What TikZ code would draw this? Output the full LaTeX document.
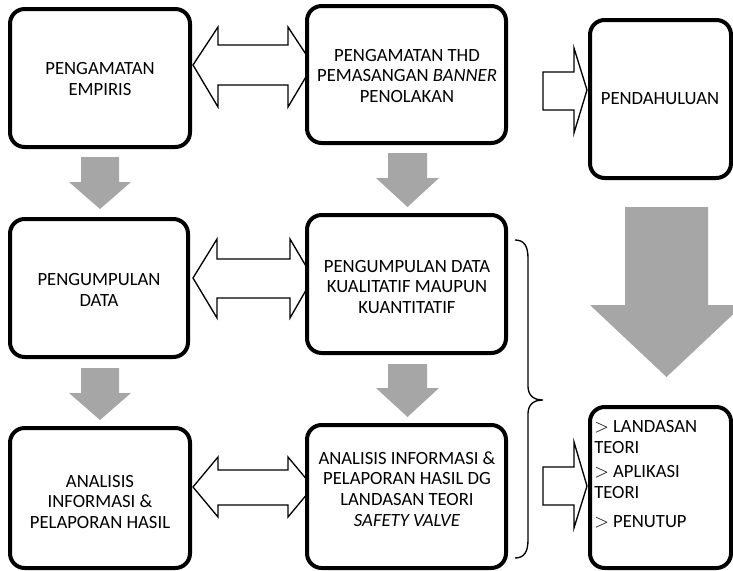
\documentclass[tikz,border=0pt]{standalone}
\usepackage{fontspec}
\setmainfont{Carlito}
\usetikzlibrary{fit}
\definecolor{arrowgray}{HTML}{A6A6A6}
\begin{document}
\begin{tikzpicture}[x=0.75pt,y=-0.75pt,
  box/.style={draw=black,line width=3pt,rounded corners=11pt,fill=white,inner sep=0pt},
  txt/.style={align=center,inner sep=0pt,font=\fontsize{14}{15.6}\selectfont},
  grayarr/.style={fill=arrowgray,draw=none},
  hollow/.style={draw=black,line width=1pt,fill=white,line join=miter},
  bracestyle/.style={draw=black,line width=1pt}]
\useasboundingbox (0,0) rectangle (733,571);

% gray down arrows
\fill[grayarr] (81,157) -- (119,157) -- (119,182) -- (131,182) -- (100,209) -- (69,182) -- (81,182) -- cycle;
\fill[grayarr] (388,153) -- (427,153) -- (427,178) -- (439,178) -- (407.5,207) -- (376,178) -- (388,178) -- cycle;
\fill[grayarr] (81,368) -- (119,368) -- (119,393) -- (131,393) -- (100,420) -- (69,393) -- (81,393) -- cycle;
\fill[grayarr] (388,364) -- (427,364) -- (427,388) -- (439,388) -- (407.5,417) -- (376,388) -- (388,388) -- cycle;
% big gray arrow
\fill[grayarr] (625,207) -- (708,207) -- (708,305) -- (743,305) -- (666.5,377) -- (590,305) -- (625,305) -- cycle;

% hollow double arrows
\draw[hollow] (193,65) -- (218,27) -- (218,45) -- (288,45) -- (288,27) -- (313,65) -- (288,107) -- (288,85) -- (218,85) -- (218,107) -- cycle;
\draw[hollow] (193,278) -- (217,239) -- (217,259) -- (290,259) -- (290,239) -- (313,278) -- (290,318) -- (290,298) -- (217,298) -- (217,318) -- cycle;
\draw[hollow] (193,487) -- (218,457) -- (218,470) -- (288,470) -- (288,457) -- (313,487) -- (288,517) -- (288,505) -- (218,505) -- (218,517) -- cycle;
% hollow single arrows
\draw[hollow] (543,72) -- (574,72) -- (574,48) -- (587,90) -- (574,133) -- (574,110) -- (543,110) -- cycle;
\draw[hollow] (543,467) -- (574,467) -- (574,442) -- (587,486) -- (574,528) -- (574,505) -- (543,505) -- cycle;

% brace
\draw[bracestyle] (515,240) .. controls (524,240) and (528,246) .. (528,258) -- (528,386) .. controls (528,395) and (533,400) .. (543,400) .. controls (533,400) and (528,405) .. (528,414) -- (528,540) .. controls (528,552) and (524,558) .. (515,558);

% boxes
\node[box,fit={(10,9) (190,147)}] (b1) {};
\node[box,fit={(307,6) (506,143)}] (b2) {};
\node[box,fit={(590,20) (731,178)}] (b3) {};
\node[box,fit={(10,219) (188,357)}] (b4) {};
\node[box,fit={(307,215) (506,353)}] (b5) {};
\node[box,fit={(10,428) (190,568)}] (b6) {};
\node[box,fit={(307,425) (506,568)}] (b7) {};
\node[box,fit={(590,407) (731,568)}] (b8) {};

% texts
\node[txt] (t1) at (100,79) {PENGAMATAN\\EMPIRIS};
\node[txt] (t2) at (407,76) {PENGAMATAN THD\\PEMASANGAN \textit{BANNER}\\PENOLAKAN};
\node[txt] (t3) at (660,99) {PENDAHULUAN};
\node[txt] (t4) at (99,290) {PENGUMPULAN\\DATA};
\node[txt] (t5) at (407,287) {PENGUMPULAN DATA\\KUALITATIF MAUPUN\\KUANTITATIF};
\node[txt] (t6) at (100,502) {ANALISIS\\INFORMASI \&\\PELAPORAN HASIL};
\node[txt] (t7) at (407,489) {ANALISIS INFORMASI \&\\PELAPORAN HASIL DG\\LANDASAN TEORI\\\textit{SAFETY VALVE}};
\node[txt,anchor=base west] (t8a) at (594,432) {$>$ LANDASAN};
\node[txt,anchor=base west] (t8b) at (594,453) {TEORI};
\node[txt,anchor=base west] (t8c) at (594,477) {$>$ APLIKASI};
\node[txt,anchor=base west] (t8d) at (594,498) {TEORI};
\node[txt,anchor=base west] (t8e) at (594,527) {$>$ PENUTUP};
\end{tikzpicture}
\end{document}
